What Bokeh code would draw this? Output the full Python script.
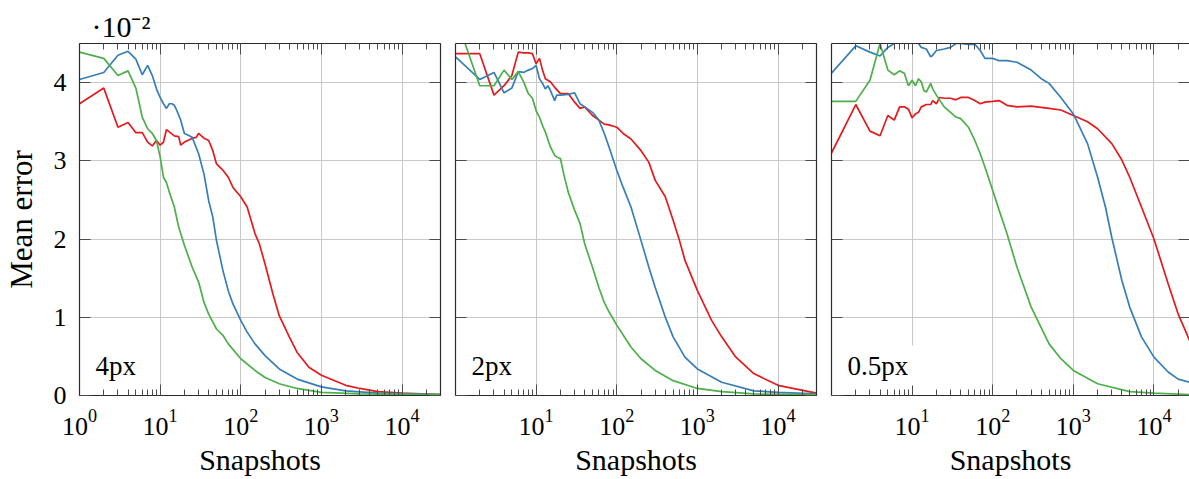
import numpy as np
from bokeh.plotting import figure
from bokeh.models import (Range1d, FixedTicker, LogAxis, LinearAxis, Label,
                          CustomJSTickFormatter, LogTickFormatter)
from bokeh.layouts import row
from bokeh.embed import file_html
from bokeh.resources import INLINE

RED = "#e41a1c"
BLUE = "#377eb8"
GREEN = "#4daf4a"
FONT = "Liberation Serif"

panel_titles = ["4px", "2px", "0.5px"]
y_ticks = [0, 1, 2, 3, 4]
x_major = [1, 10, 100, 1000, 10000]
scale_note = "·10⁻²"

# ---- panel 1 : 4px (values in units of 1e-2) ----
r1_x = [1,2,3,4,5,6,7,8,9,10,11,12,13,15,17,18,20,22,25,28,30,35,40,45,50,60,70,80,100,120,150,170,200,250,300,400,500,700,1000,2000,3000,5000,10000,30000]
r1_y = [3.73,3.93,3.43,3.49,3.36,3.36,3.24,3.19,3.26,3.20,3.24,3.40,3.37,3.32,3.31,3.20,3.24,3.26,3.29,3.30,3.35,3.29,3.26,3.13,2.96,2.88,2.79,2.66,2.54,2.41,2.07,1.94,1.68,1.30,1.02,0.75,0.55,0.36,0.26,0.13,0.09,0.05,0.03,0.01]
b1_x = [1,2,3,4,5,6,7,8,9,10,11,12,13,14,15,16,18,20,22,25,30,35,40,45,50,60,70,80,100,120,150,200,300,500,1000,2000,5000,30000]
b1_y = [4.04,4.13,4.35,4.40,4.30,4.10,4.22,4.09,3.92,3.81,3.73,3.67,3.73,3.73,3.71,3.65,3.52,3.35,3.33,3.30,3.09,2.83,2.49,2.28,1.98,1.60,1.34,1.17,0.96,0.81,0.66,0.51,0.34,0.21,0.11,0.06,0.03,0.01]
g1_x = [1,2,3,4,5,6,7,8,9,10,11,12,13,15,17,20,25,30,35,40,50,60,70,100,150,200,300,500,1000,3000,30000]
g1_y = [4.39,4.31,4.09,4.15,3.93,3.56,3.41,3.35,3.26,3.05,2.79,2.72,2.60,2.41,2.15,1.92,1.64,1.45,1.19,1.04,0.85,0.77,0.66,0.47,0.32,0.23,0.15,0.09,0.04,0.02,0.01]

# ---- panel 2 : 2px ----
r2_x = [1,2,3,4,5,6,7,8,9,10,11,12,13,15,17,20,25,30,35,40,50,60,70,80,100,120,150,200,250,300,400,500,600,700,1000,1500,2000,3000,5000,10000,30000]
r2_y = [4.37,4.37,3.84,3.96,4.09,4.39,4.38,4.38,4.37,4.24,4.31,4.16,4.05,4.01,3.94,3.86,3.86,3.75,3.67,3.69,3.58,3.52,3.47,3.46,3.43,3.35,3.28,3.13,2.98,2.75,2.54,2.24,1.98,1.73,1.34,0.96,0.75,0.49,0.28,0.13,0.03]
b2_x = [1,2,3,4,5,6,7,8,9,10,11,12,13,14,15,17,18,20,25,30,35,40,50,60,70,80,100,120,150,200,250,300,400,500,700,1000,2000,5000,10000,30000]
b2_y = [4.33,4.04,4.13,3.87,3.93,4.14,4.13,4.16,4.18,4.22,4.05,3.99,3.92,3.96,3.90,3.77,3.84,3.84,3.85,3.87,3.73,3.69,3.62,3.52,3.35,3.18,2.88,2.66,2.41,1.98,1.64,1.38,1.00,0.75,0.49,0.34,0.17,0.06,0.04,0.02]
g2_x = [1,2,3,4,5,6,7,8,9,10,11,12,13,15,17,18,20,22,25,30,35,40,50,60,70,80,100,150,200,300,500,1000,2000,5000,30000]
g2_y = [4.85,3.96,3.96,4.16,4.04,4.14,4.01,3.86,3.80,3.64,3.56,3.45,3.37,3.18,3.07,3.05,3.03,2.83,2.60,2.37,2.20,1.94,1.64,1.38,1.19,1.07,0.90,0.62,0.47,0.32,0.19,0.09,0.05,0.02,0.01]

# ---- panel 3 : 0.5px ----
r3_x = [1,2,3,4,5,6,7,8,9,10,11,12,13,15,17,18,20,22,25,30,35,40,50,60,70,80,100,120,150,200,300,500,700,1000,1500,2000,3000,4000,5000,7000,10000,15000,20000,30000]
r3_y = [3.10,3.72,3.38,3.32,3.58,3.52,3.69,3.69,3.66,3.55,3.60,3.62,3.69,3.72,3.72,3.77,3.73,3.81,3.80,3.80,3.78,3.81,3.81,3.77,3.73,3.75,3.76,3.77,3.71,3.69,3.70,3.67,3.65,3.58,3.50,3.41,3.22,3.01,2.79,2.41,2.00,1.43,1.04,0.62]
b3_x = [1,2,3,4,5,6,7,8,9,10,11,12,13,15,17,18,20,25,30,35,40,50,60,70,80,100,120,150,200,300,400,500,700,1000,1500,2000,2500,3000,4000,5000,7000,10000,15000,20000,30000]
b3_y = [4.12,4.47,4.39,4.34,4.45,4.50,4.58,4.62,4.60,4.56,4.52,4.50,4.45,4.43,4.33,4.35,4.41,4.43,4.45,4.50,4.50,4.49,4.49,4.41,4.31,4.31,4.28,4.28,4.26,4.16,4.05,3.99,3.81,3.60,3.22,2.79,2.41,2.02,1.47,1.13,0.75,0.49,0.30,0.21,0.16]
g3_x = [1,2,3,4,5,6,7,8,9,10,11,12,13,14,15,17,18,20,25,30,35,40,50,60,70,80,100,120,150,200,300,500,700,1000,2000,5000,10000,30000]
g3_y = [3.76,3.76,4.03,4.50,4.16,4.10,4.15,4.12,3.96,4.03,3.96,4.05,4.01,3.90,3.88,3.99,3.92,3.84,3.69,3.62,3.56,3.54,3.43,3.26,3.09,2.92,2.62,2.37,2.07,1.64,1.13,0.66,0.47,0.32,0.15,0.05,0.03,0.01]

panels = [
    [(r1_x, r1_y, RED), (b1_x, b1_y, BLUE), (g1_x, g1_y, GREEN)],
    [(r2_x, r2_y, RED), (b2_x, b2_y, BLUE), (g2_x, g2_y, GREEN)],
    [(r3_x, r3_y, RED), (b3_x, b3_y, BLUE), (g3_x, g3_y, GREEN)],
]

TICK_FS = "26px"
XLAB_FS = "30px"
YLAB_FS = "31px"
FRAME = "#2b2b2b"
TICK = "#4a4a4a"
GRID = "#c8c8c8"
EMPTY = CustomJSTickFormatter(code="return ''")


def minor_ticks(xmax):
    out = []
    for k in range(0, 5):
        for m in range(2, 10):
            v = m * 10 ** k
            if v <= xmax:
                out.append(v)
    return out


def style_axis(ax, labels=True):
    ax.major_tick_in = 11
    ax.major_tick_out = 0
    ax.minor_tick_in = 6
    ax.minor_tick_out = 0
    ax.major_tick_line_color = TICK
    ax.minor_tick_line_color = TICK
    ax.axis_line_color = FRAME
    ax.axis_line_width = 1.2
    if not labels:
        ax.formatter = EMPTY
        ax.major_label_text_font_size = "1px"
        ax.major_label_standoff = 0


def make_panel(i, width, mbl, mbr, xmax, first):
    p = figure(width=width, height=479, x_axis_type="log",
               x_range=Range1d(1, xmax), y_range=Range1d(0, 4.5),
               output_backend="svg", toolbar_location=None,
               min_border_left=mbl, min_border_right=mbr,
               min_border_top=43, min_border_bottom=84,
               outline_line_color=None, background_fill_color="white")
    if first:
        p.title.text = scale_note
        p.title.text_font = FONT
        p.title.text_font_size = "30px"
        p.title.text_font_style = "normal"
        p.title.text_color = "black"
        p.title.align = "left"
        p.title.offset = 12
        p.title.standoff = 2
    xt = x_major if first else x_major[1:]
    xticker = FixedTicker(ticks=xt, minor_ticks=minor_ticks(xmax))
    yticker = FixedTicker(ticks=y_ticks, minor_ticks=[])

    # bottom axis
    bx = p.xaxis[0]
    bx.ticker = xticker
    bx.formatter = LogTickFormatter()
    style_axis(bx)
    bx.major_label_text_font = FONT
    bx.major_label_text_font_size = TICK_FS
    bx.major_label_text_color = "black"
    bx.major_label_standoff = 14
    bx.axis_label = "Snapshots"
    bx.axis_label_text_font = FONT
    bx.axis_label_text_font_size = XLAB_FS
    bx.axis_label_text_font_style = "normal"
    bx.axis_label_text_color = "black"
    bx.axis_label_standoff = 5

    # left axis
    ly = p.yaxis[0]
    ly.ticker = yticker
    style_axis(ly, labels=first)
    ly.minor_tick_line_color = None
    if first:
        ly.major_label_text_font = FONT
        ly.major_label_text_font_size = TICK_FS
        ly.major_label_text_color = "black"
        ly.major_label_standoff = 13
        ly.axis_label = "Mean error"
        ly.axis_label_text_font = FONT
        ly.axis_label_text_font_size = YLAB_FS
        ly.axis_label_text_font_style = "normal"
        ly.axis_label_text_color = "black"
        ly.axis_label_standoff = 12

    # top axis (mirrored ticks inside)
    tx = LogAxis(ticker=xticker)
    style_axis(tx, labels=False)
    p.add_layout(tx, "above")

    # right axis (mirrored ticks inside)
    ry = LinearAxis(ticker=yticker)
    style_axis(ry, labels=False)
    ry.minor_tick_line_color = None
    if i == 2:
        ry.axis_line_color = None
    p.add_layout(ry, "right")

    p.xgrid.ticker = FixedTicker(ticks=x_major)
    p.ygrid.ticker = FixedTicker(ticks=y_ticks)
    p.xgrid.grid_line_color = GRID
    p.ygrid.grid_line_color = GRID
    p.xgrid.grid_line_width = 1
    p.ygrid.grid_line_width = 1

    for xs, ys, c in panels[i]:
        p.line(xs, ys, line_color=c, line_width=1.7)

    p.add_layout(Label(x=11, y=30, x_units="screen", y_units="screen",
                       text=panel_titles[i], text_font=FONT, text_font_size="27px",
                       text_baseline="alphabetic", text_color="black",
                       background_fill_color="white", padding=5))
    return p


p1 = make_panel(0, 447, 79, 7, 30000, True)
p2 = make_panel(1, 376, 8, 7, 30000, False)
p3 = make_panel(2, 366, 8, 0, 27600, False)

layout = row(p1, p2, p3)
open("out.html", "w").write(file_html(layout, INLINE))
